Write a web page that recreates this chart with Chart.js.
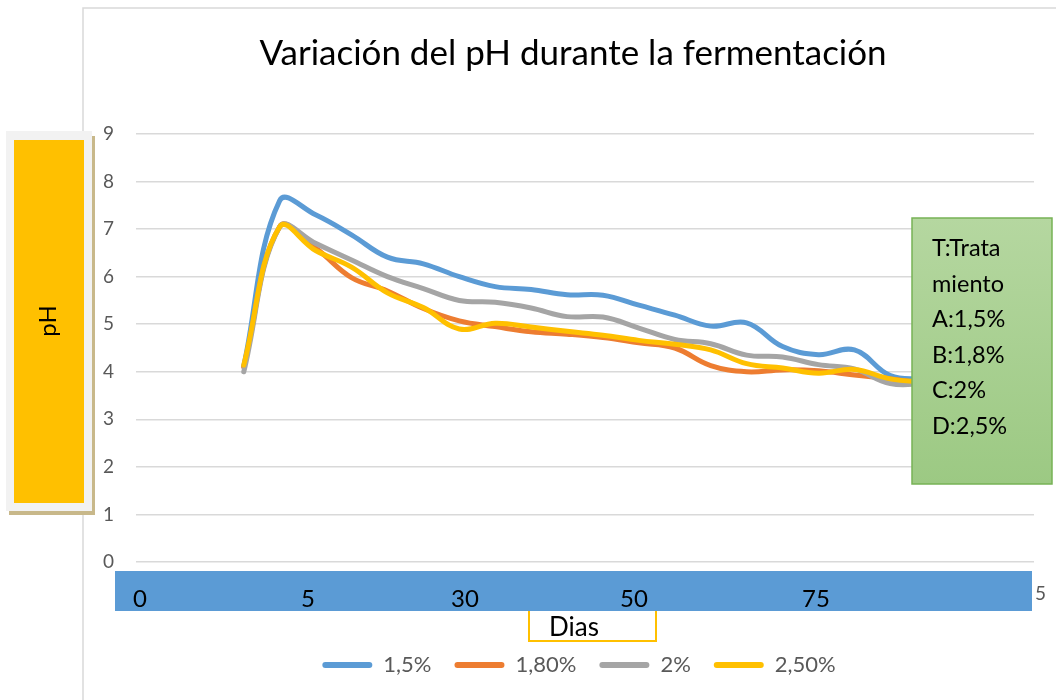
<!DOCTYPE html>
<html>
<head>
<meta charset="utf-8">
<script src="https://cdn.jsdelivr.net/npm/chart.js@4"></script>
<style>
  html, body { margin: 0; padding: 0; background: #fff; }
</style>
</head>
<body>
<canvas id="myChart" width="1056" height="700"></canvas>
<script>
// datos
var titulo = 'Variación del pH durante la fermentación';
var dias = ['0','1','2','3','4','5','6','7','8','9','10','11','12','13','14','15','16','17','18','19','20','21','22','23','24','25'];
var ph15 = [null, null, null, 4.12, 7.6, 7.3, 6.88, 6.41, 6.27, 6.0, 5.79, 5.73, 5.62, 5.61, 5.4, 5.19, 4.96, 5.03, 4.53, 4.36, 4.46, 3.92, 3.85, null, null, null];
var ph18 = [null, null, null, 4.1, 7.05, 6.6, 5.98, 5.7, 5.33, 5.07, 4.95, 4.84, 4.79, 4.72, 4.61, 4.5, 4.13, 4.0, 4.04, 4.02, 3.93, 3.85, 3.75, null, null, null];
var ph20 = [null, null, null, 4.0, 7.05, 6.7, 6.35, 6.0, 5.75, 5.5, 5.46, 5.34, 5.16, 5.15, 4.92, 4.68, 4.59, 4.35, 4.31, 4.15, 4.06, 3.75, 3.75, null, null, null];
var ph25 = [null, null, null, 4.14, 7.05, 6.55, 6.2, 5.66, 5.35, 4.9, 5.02, 4.94, 4.85, 4.77, 4.66, 4.58, 4.46, 4.17, 4.08, 3.97, 4.05, 3.85, 3.78, null, null, null];
var series = ['1,5%', '1,80%', '2%', '2,50%'];
var colores = ['#5B9BD5', '#ED7D31', '#A5A5A5', '#FFC000'];
var bandaTextos = ['0', '5', '30', '50', '75'];
var bandaX = [140, 308, 465, 634, 816];
var notaTextos = ['T:Trata', 'miento', 'A:1,5%', 'B:1,8%', 'C:2%', 'D:2,5%'];

// cuadros y textos encima del grafico
var adornos = {
  id: 'adornos',
  afterLayout: function(chart) {
    // la leyenda va algo a la derecha del centro
    chart.legend.left += 62;
    chart.legend.right += 62;
  },
  beforeDraw: function(chart) {
    var c = chart.ctx;
    c.save();
    c.fillStyle = '#fff';
    c.fillRect(0, 0, chart.width, chart.height);
    c.strokeStyle = '#d9d9d9';
    c.lineWidth = 1.5;
    c.beginPath();
    c.moveTo(83, 700); c.lineTo(83, 8); c.lineTo(1056, 8);
    c.stroke();
    c.fillStyle = '#000';
    c.font = '35px Lato';
    c.textAlign = 'center';
    c.textBaseline = 'alphabetic';
    c.fillText(titulo, 573, 65);
    c.restore();
  },
  afterDraw: function(chart) {
    var c = chart.ctx;
    c.save();
    // recuadro amarillo de "Dias"
    c.strokeStyle = '#FFC000';
    c.lineWidth = 2;
    c.beginPath();
    c.moveTo(529, 600); c.lineTo(529, 641); c.lineTo(656, 641); c.lineTo(656, 600);
    c.stroke();
    // banda azul del eje x
    c.fillStyle = '#5B9BD5';
    c.fillRect(115, 571, 917, 40);
    c.fillStyle = '#000';
    c.font = '24px Lato';
    c.textAlign = 'center';
    c.textBaseline = 'alphabetic';
    for (var i = 0; i < bandaTextos.length; i++) {
      c.fillText(bandaTextos[i], bandaX[i], 607);
    }
    c.font = '26px Lato';
    c.fillText('Dias', 574, 636);
    c.fillStyle = '#595959';
    c.font = '19px Lato';
    c.textAlign = 'left';
    c.fillText('5', 1035, 600);
    // titulo del eje y
    c.fillStyle = '#c8b88a';
    c.fillRect(9, 136, 86, 379);
    c.fillStyle = '#f2f2f2';
    c.fillRect(6, 131, 86, 380);
    c.fillStyle = '#FFC000';
    c.fillRect(14, 140, 70, 363);
    c.save();
    c.translate(48, 321);
    c.rotate(-Math.PI / 2);
    c.fillStyle = '#000';
    c.font = '24px Lato';
    c.textAlign = 'center';
    c.textBaseline = 'middle';
    c.fillText('pH', 0, 0);
    c.restore();
    // nota verde
    var g = c.createLinearGradient(0, 218, 0, 484);
    g.addColorStop(0, '#b5d7a0');
    g.addColorStop(1, '#9cc983');
    c.fillStyle = g;
    c.fillRect(912, 218, 140, 266);
    c.strokeStyle = '#77b255';
    c.lineWidth = 1.5;
    c.strokeRect(912, 218, 140, 266);
    c.fillStyle = '#000';
    c.font = '23.5px Lato';
    c.textAlign = 'left';
    for (var j = 0; j < notaTextos.length; j++) {
      c.fillText(notaTextos[j], 932, 256 + j * 35.6);
    }
    c.restore();
  }
};

var valores = [ph15, ph18, ph20, ph25];
var datasets = [];
for (var k = 0; k < series.length; k++) {
  datasets.push({
    label: series[k],
    data: valores[k],
    borderColor: colores[k],
    backgroundColor: colores[k],
    borderWidth: 5,
    pointRadius: 0,
    tension: 0.4,
    borderCapStyle: 'round',
    borderJoinStyle: 'round',
    fill: false,
    order: series.length - 1 - k
  });
}

var ctx = document.getElementById('myChart').getContext('2d');
var chart = new Chart(ctx, {
  type: 'line',
  data: { labels: dias, datasets: datasets },
  plugins: [adornos],
  options: {
    responsive: false,
    animation: false,
    layout: { padding: { top: 134, left: 0, right: 22, bottom: 14 } },
    plugins: {
      title: { display: false },
      tooltip: { enabled: false },
      legend: {
        position: 'bottom',
        labels: {
          color: '#595959',
          font: { family: 'Lato', size: 22 },
          boxWidth: 50,
          boxHeight: 6,
          useBorderRadius: true,
          borderRadius: 3,
          padding: 23,
          sort: function(a, b) { return a.datasetIndex - b.datasetIndex; },
          generateLabels: function(chart) {
            var items = Chart.defaults.plugins.legend.labels.generateLabels(chart);
            items.forEach(function(it) { it.lineWidth = 0; });
            return items;
          }
        }
      }
    },
    scales: {
      x: {
        offset: false,
        grid: { display: false },
        border: { display: false },
        ticks: { display: false },
        afterFit: function(s) { s.height = 69; }
      },
      y: {
        min: 0,
        max: 9,
        ticks: { stepSize: 1, padding: 22, color: '#595959', font: { family: 'Lato', size: 19 } },
        grid: { color: '#d9d9d9', lineWidth: 1.5, drawTicks: false },
        border: { display: false },
        afterFit: function(s) { s.width = 136; }
      }
    }
  }
});
</script>
</body>
</html>
